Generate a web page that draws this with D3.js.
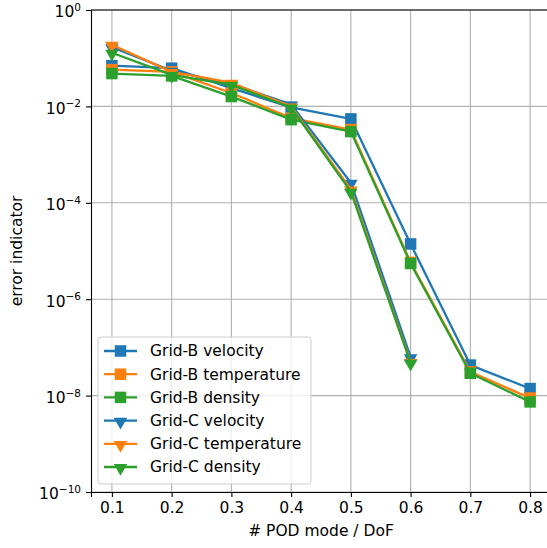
<!DOCTYPE html>
<html>
<head>
<meta charset="utf-8">
<script src="https://cdn.jsdelivr.net/npm/d3@7"></script>
<style>
  body { margin: 0; background: #fff; }
  svg { font-family: "DejaVu Sans", sans-serif; }
</style>
</head>
<body>
<div id="chart"></div>
<script>
// values
const podModes = [0.1, 0.2, 0.3, 0.4, 0.5, 0.6, 0.7, 0.8];
const gridB_velocity    = [0.070, 0.062, 0.024, 0.0095, 0.0055, 1.4e-5, 4.3e-8, 1.4e-8];
const gridB_temperature = [0.058, 0.052, 0.019, 0.0057, 0.0033, 5.8e-6, 3.1e-8, 8.9e-9];
const gridB_density     = [0.048, 0.043, 0.016, 0.0053, 0.0030, 5.5e-6, 2.9e-8, 7.4e-9];
const gridC_velocity    = [0.17, 0.055, 0.029, 0.0110, 2.6e-4, 6.3e-8];
const gridC_temperature = [0.19, 0.052, 0.031, 0.0100, 1.9e-4, 5.0e-8];
const gridC_density     = [0.13, 0.045, 0.028, 0.0095, 1.7e-4, 4.8e-8];
const xTicks = [0.1, 0.2, 0.3, 0.4, 0.5, 0.6, 0.7, 0.8];
const yTicks = [1, 1e-2, 1e-4, 1e-6, 1e-8, 1e-10];

const series = [
  {name: "Grid-B velocity",    vals: gridB_velocity,    color: "#1f77b4", marker: "square"},
  {name: "Grid-B temperature", vals: gridB_temperature, color: "#ff7f0e", marker: "square"},
  {name: "Grid-B density",     vals: gridB_density,     color: "#2ca02c", marker: "square"},
  {name: "Grid-C velocity",    vals: gridC_velocity,    color: "#1f77b4", marker: "tri"},
  {name: "Grid-C temperature", vals: gridC_temperature, color: "#ff7f0e", marker: "tri"},
  {name: "Grid-C density",     vals: gridC_density,     color: "#2ca02c", marker: "tri"}
];

const margin = {top: 10, left: 91},
  width = 460, height = 482;
const fs = 15.5;

const svg = d3.select("#chart").append("svg")
  .attr("width", 547).attr("height", 548);
const g = svg.append("g").attr("transform", `translate(${margin.left},${margin.top})`);

const x = d3.scaleLinear().domain([0.065, 0.835]).range([0, width]);
const y = d3.scaleLog().domain([1e-10, 1]).range([height, 0]);

// grid
g.append("g").selectAll("line").data(xTicks).join("line")
  .attr("x1", d => x(d)).attr("x2", d => x(d)).attr("y1", 0).attr("y2", height)
  .attr("stroke", "#b0b0b0").attr("stroke-width", 1.1);
g.append("g").selectAll("line").data(yTicks).join("line")
  .attr("x1", 0).attr("x2", width).attr("y1", d => y(d)).attr("y2", d => y(d))
  .attr("stroke", "#b0b0b0").attr("stroke-width", 1.1);

// markers
const triangle = d3.symbol().type(d3.symbolTriangle).size(80);
function drawMarker(sel, s, px, py) {
  if (s.marker === "square") {
    sel.append("rect").attr("x", px - 5.75).attr("y", py - 5.75)
      .attr("width", 11.5).attr("height", 11.5).attr("fill", s.color);
  } else {
    sel.append("path").attr("d", triangle())
      .attr("transform", `translate(${px},${py + 1}) rotate(180)`)
      .attr("fill", s.color);
  }
}

const line = d3.line().x((d, i) => x(podModes[i])).y(d => y(d));
series.forEach(s => {
  const sg = g.append("g");
  sg.append("path").attr("d", line(s.vals))
    .attr("fill", "none").attr("stroke", s.color).attr("stroke-width", 2.3)
    .attr("stroke-linejoin", "round");
  s.vals.forEach((v, i) => drawMarker(sg, s, x(podModes[i]), y(v)));
});

// axes
const xAxis = g.append("g").attr("transform", `translate(0,${height})`)
  .call(d3.axisBottom(x).tickValues(xTicks).tickFormat(d3.format(".1f")).tickSizeOuter(0).tickSize(5).tickPadding(5));
const yAxis = g.append("g")
  .call(d3.axisLeft(y).tickValues(yTicks).tickFormat(() => "").tickSizeOuter(0).tickSize(5));
[xAxis, yAxis].forEach(a => {
  a.selectAll("text").attr("font-size", fs).attr("fill", "#000").attr("font-family", "DejaVu Sans");
  a.select(".domain").attr("stroke", "#000").attr("stroke-width", 1.1);
  a.selectAll(".tick line").attr("stroke", "#000").attr("stroke-width", 1.1);
});
yAxis.selectAll(".tick").each(function(d) {
  const t = d3.select(this).select("text").attr("x", -10).attr("dy", "0.45em");
  t.append("tspan").text("10");
  t.append("tspan").attr("font-size", 10.5).attr("dy", "-0.62em").text(Math.round(Math.log10(d)).toString().replace("-", "\u2212"));
});
// top spine
g.append("line").attr("x1", 0).attr("x2", width).attr("y1", 0).attr("y2", 0)
  .attr("stroke", "#000").attr("stroke-width", 1.1);

// labels
svg.append("text").attr("x", margin.left + width / 2).attr("y", 536)
  .attr("text-anchor", "middle").attr("font-size", fs).text("# POD mode / DoF");
svg.append("text").attr("transform", `translate(22,${margin.top + height / 2}) rotate(-90)`)
  .attr("text-anchor", "middle").attr("font-size", fs).text("error indicator");

// legend
const lg = g.append("g").attr("transform", "translate(7,327)");
lg.append("rect").attr("width", 213).attr("height", 147).attr("rx", 3)
  .attr("fill", "#fff").attr("fill-opacity", 0.8).attr("stroke", "#cccccc").attr("stroke-width", 1);
series.forEach((s, i) => {
  const row = lg.append("g").attr("transform", `translate(0,${14 + i * 23.2})`);
  row.append("line").attr("x1", 6).attr("x2", 39).attr("y1", 0).attr("y2", 0)
    .attr("stroke", s.color).attr("stroke-width", 2.3);
  drawMarker(row, s, 22.5, 0);
  row.append("text").attr("x", 52).attr("y", 0).attr("dy", "0.35em")
    .attr("font-size", fs).text(s.name);
});
</script>
</body>
</html>
